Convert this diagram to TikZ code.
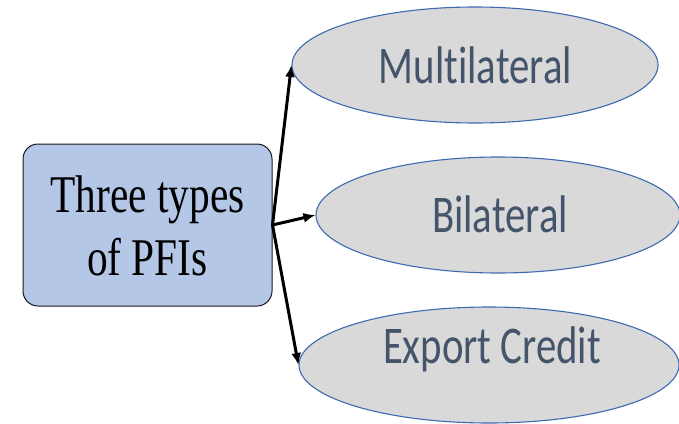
\documentclass[tikz,border=0pt]{standalone}
\usepackage{fontspec}
\setmainfont{Liberation Serif}
\newfontfamily\calfont[RawFeature={-liga}]{Carlito}
\usetikzlibrary{shapes.geometric,arrows.meta}
\definecolor{boxblue}{HTML}{B4C7E7}
\definecolor{ellgray}{HTML}{D9D9D9}
\definecolor{ellborder}{HTML}{3F6AB0}
\definecolor{elltext}{HTML}{44546A}
\tikzset{
  mainbox/.style={draw=black!90, line width=1pt, fill=boxblue, rounded corners=15pt,
    minimum width=249pt, minimum height=162pt, inner sep=0pt},
  oval/.style={ellipse, draw=ellborder, line width=1.1pt, fill=ellgray, inner sep=0pt},
  ovaltext/.style={text=elltext, font=\calfont\fontsize{53pt}{60pt}\selectfont, inner sep=0pt, anchor=base},
  conn/.style={line width=3pt, -{Latex[length=12pt,width=10pt]}}
}
\begin{document}
\begin{tikzpicture}[x=1pt,y=-1pt]
\useasboundingbox (0,0) rectangle (679,423);
\clip (0,0) rectangle (679,423);
\node[mainbox] (src) at (147.5,225) {};
\node[anchor=base, inner sep=0pt, font=\fontsize{53pt}{60pt}\selectfont] (l1) at (147.5,212) {\scalebox{0.78}[1]{Three types}};
\node[anchor=base, inner sep=0pt, font=\fontsize{53pt}{60pt}\selectfont] (l2) at (147.5,275) {\scalebox{0.78}[1]{of PFIs}};
\node[oval, minimum width=366pt, minimum height=116pt] (e1) at (475,65) {};
\node[oval, minimum width=364pt, minimum height=116pt] (e2) at (498,215) {};
\node[oval, minimum width=380pt, minimum height=116pt] (e3) at (489,365) {};
\node[ovaltext] (t1) at (475.5,83) {\scalebox{0.77}[1]{Multilateral}};
\node[ovaltext] (t2) at (500,232) {\scalebox{0.77}[1]{Bilateral}};
\node[ovaltext] (t3) at (492,363) {\scalebox{0.77}[1]{Export Credit}};
\draw[conn] (src.east) -- (e1.west);
\draw[conn] (src.east) -- (e2.west);
\draw[conn] (src.east) -- (e3.west);
\end{tikzpicture}
\end{document}
